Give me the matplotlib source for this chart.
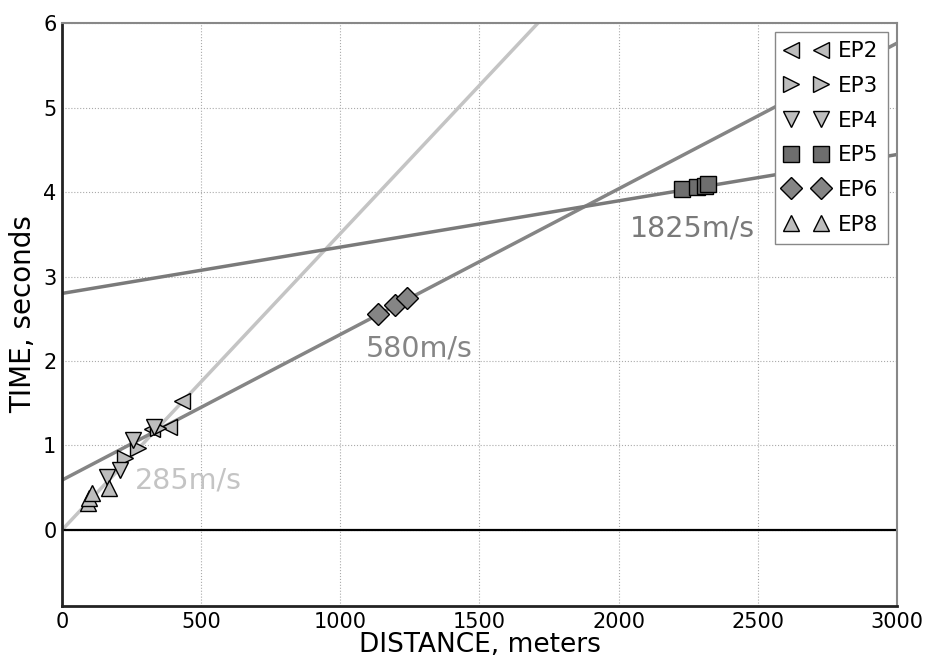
import numpy as np
import matplotlib
matplotlib.use('Agg')
import matplotlib.pyplot as plt

# picks
ep2_x = [322, 385, 430]
ep2_t = [1.20, 1.22, 1.53]
ep3_x = [226, 273, 345]
ep3_t = [0.85, 0.97, 1.21]
ep4_x = [160, 208, 255, 330]
ep4_t = [0.63, 0.71, 1.07, 1.22]
ep5_x = [2227, 2281, 2310, 2322]
ep5_t = [4.04, 4.06, 4.07, 4.10]
ep6_x = [1137, 1197, 1238]
ep6_t = [2.56, 2.66, 2.74]
ep8_x = [94, 97, 107, 169]
ep8_t = [0.32, 0.38, 0.44, 0.50]

# fitted layers: velocity (m/s), intercept (s)
velocities = [285, 580, 1825]
intercepts = [0.0, 0.59, 2.80]
line_colors = ['#c4c4c4', '#858585', '#7a7a7a']
label_pos = [(262, 0.59), (1090, 2.15), (2041, 3.57)]

fig = plt.figure(figsize=(9.28, 6.59), dpi=100)
ax = fig.add_axes([0.0668, 0.0804, 0.8998, 0.8846])

xs = np.array([0, 3000])
for v, t0, c, (lx, ly) in zip(velocities, intercepts, line_colors, label_pos):
    ax.plot(xs, t0 + xs / v, color=c, lw=2.5, zorder=2)
    ax.text(lx, ly, '%dm/s' % v, color=c, fontsize=20.5, va='center', ha='left')

ax.axhline(0, color='black', lw=1.6, zorder=2.5)

light = '#bdbdbd'
ms = 11.5
ax.plot(ep2_x, ep2_t, '<', ms=ms, mfc=light, mec='black', mew=1, ls='none', label='EP2', zorder=3)
ax.plot(ep3_x, ep3_t, '>', ms=ms, mfc=light, mec='black', mew=1, ls='none', label='EP3', zorder=3)
ax.plot(ep4_x, ep4_t, 'v', ms=ms, mfc=light, mec='black', mew=1, ls='none', label='EP4', zorder=3)
ax.plot(ep5_x, ep5_t, 's', ms=ms, mfc='#6e6e6e', mec='black', mew=1, ls='none', label='EP5', zorder=3)
ax.plot(ep6_x, ep6_t, 'D', ms=ms, mfc='#858585', mec='black', mew=1, ls='none', label='EP6', zorder=3)
ax.plot(ep8_x, ep8_t, '^', ms=ms, mfc=light, mec='black', mew=1, ls='none', label='EP8', zorder=3)

ax.set_xlim(0, 3000)
ax.set_ylim(-0.9, 6)
ax.set_xticks(np.arange(0, 3001, 500))
ax.set_yticks(np.arange(0, 7, 1))
ax.tick_params(labelsize=15, direction='in', length=0, pad=4)
ax.grid(True, ls=':', color='#aaaaaa', lw=0.8)

ax.set_xlabel('DISTANCE, meters', fontsize=19, labelpad=0)
ax.set_ylabel('TIME, seconds', fontsize=20, labelpad=4)

for s in ['left', 'bottom']:
    ax.spines[s].set_linewidth(2)
    ax.spines[s].set_color('#222222')
for s in ['right', 'top']:
    ax.spines[s].set_linewidth(1.5)
    ax.spines[s].set_color('#888888')

leg = ax.legend(loc='upper right', numpoints=2, fontsize=15.5, fancybox=False,
                framealpha=1, edgecolor='#888888', borderaxespad=0.4,
                handletextpad=0.5, labelspacing=0.68, handlelength=2.0,
                borderpad=0.45)

fig.savefig('out.png', dpi=100)
